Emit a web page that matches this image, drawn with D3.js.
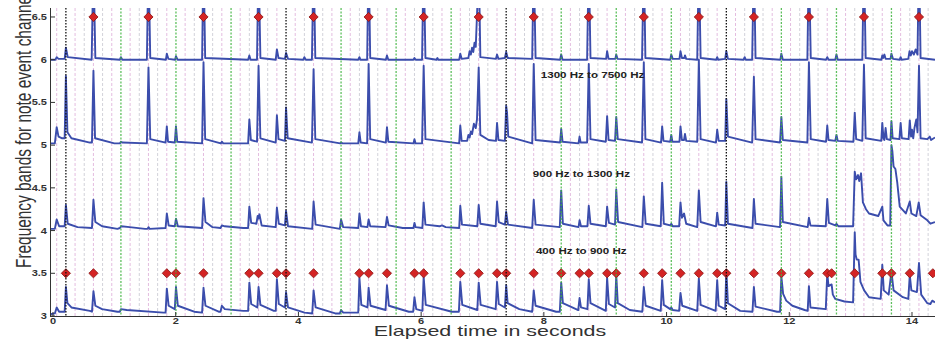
<!DOCTYPE html>
<html>
<head>
<meta charset="utf-8">
<script src="https://cdn.jsdelivr.net/npm/d3@7"></script>
<style>
  html, body { margin: 0; padding: 0; background: #fff; }
  svg { display: block; }
</style>
</head>
<body>
<script>
// ---- Axis ticks and labels ----
const xTicks = [0, 2, 4, 6, 8, 10, 12, 14];
const yTicks = [3, 3.5, 4, 4.5, 5, 5.5, 6, 6.5];
const bandLabels = ["1300 Hz to 7500 Hz", "900 Hz to 1300 Hz", "400 Hz to 900 Hz"];

// ---- Tempo grid (seconds) ----
const measureTimes = [0.21, 3.798, 7.386, 10.974];
const beatTimes = [1.107, 2.004, 2.902, 4.695, 5.592, 6.489, 8.283, 9.18, 10.077, 11.871, 12.769, 13.665];
const gridOrigin = 0.21, gridStep = 0.1495;

// ---- Detected note events (seconds) ----
const onsetsHigh = [0.659, 1.556, 2.453, 3.35, 4.247, 5.144, 6.041, 6.938, 7.835, 8.732,
  9.629, 10.526, 11.423, 12.32, 13.217, 14.114];
const onsetsLow = [0.21, 0.659, 1.855, 2.004, 2.453, 3.2, 3.35, 3.649, 3.798, 4.247, 4.994,
  5.144, 5.443, 5.891, 6.041, 6.638, 6.938, 7.237, 7.386, 7.835, 8.283, 8.582, 8.732, 9.031,
  9.18, 9.629, 9.928, 10.227, 10.526, 10.825, 10.974, 11.423, 11.871, 12.32, 12.619, 12.69,
  13.067, 13.516, 13.665, 13.964, 14.34];

// ---- Band envelopes: [time s, channel value] ----
const traceTop = [[-0.05,6.0],[0.04,6.0],[0.06,6.03],[0.09,6.01],[0.19,6.01],[0.21,6.14],[0.24,6.03],
  [0.63,6.0],[0.652,6.9],[0.666,6.9],[0.69,6.02],[1.09,6.0],[1.107,6.03],[1.13,6.0],[1.53,6.0],[1.549,6.9],[1.563,6.9],[1.585,6.02],
  [1.84,6.0],[1.855,6.07],[1.88,6.01],[1.99,6.0],[2.004,6.04],[2.03,6.0],[2.43,6.0],[2.446,6.9],[2.46,6.9],[2.48,6.02],
  [3.18,6.0],[3.2,6.05],[3.22,6.0],[3.325,6.0],[3.343,6.9],[3.357,6.9],[3.38,6.02],[3.63,6.0],[3.649,6.12],[3.675,6.02],
  [3.78,6.01],[3.798,6.08],[3.83,6.01],[4.08,6.0],[4.097,6.03],[4.12,6.0],[4.22,6.0],[4.24,6.9],[4.254,6.9],[4.275,6.02],
  [4.975,6.0],[4.994,6.03],[5.01,6.0],[5.12,6.0],[5.137,6.9],[5.151,6.9],[5.17,6.02],[5.425,6.0],[5.443,6.05],[5.465,6.0],
  [5.875,6.0],[5.891,6.02],[5.91,6.0],[6.015,6.0],[6.034,6.9],[6.048,6.9],[6.07,6.02],[6.25,6.0],[6.265,6.02],[6.28,6.0],
  [6.62,6.0],[6.638,6.07],[6.66,6.01],[6.77,6.02],[6.79,6.1],[6.81,6.06],[6.83,6.14],[6.85,6.09],[6.87,6.2],[6.89,6.15],
  [6.931,6.9],[6.945,6.9],[6.965,6.03],[7.22,6.01],[7.237,6.06],[7.26,6.01],[7.365,6.02],[7.386,6.09],[7.41,6.02],
  [7.81,6.01],[7.828,6.9],[7.842,6.9],[7.865,6.02],[8.265,6.0],[8.283,6.06],[8.305,6.0],[8.705,6.0],[8.725,6.9],[8.739,6.9],[8.76,6.02],
  [9.015,6.01],[9.031,6.1],[9.055,6.01],[9.165,6.01],[9.18,6.06],[9.2,6.01],[9.6,6.0],[9.622,6.9],[9.636,6.9],[9.655,6.02],
  [10.06,6.0],[10.077,6.06],[10.1,6.01],[10.21,6.01],[10.227,6.1],[10.25,6.02],[10.29,6.02],[10.3,6.05],[10.32,6.01],
  [10.5,6.0],[10.519,6.9],[10.533,6.9],[10.555,6.02],[10.81,6.0],[10.825,6.03],[10.84,6.0],[10.955,6.01],[10.974,6.1],[11.0,6.01],
  [11.255,6.0],[11.273,6.03],[11.29,6.0],[11.395,6.0],[11.416,6.9],[11.43,6.9],[11.45,6.02],[11.855,6.0],[11.871,6.07],[11.895,6.0],
  [12.295,6.0],[12.313,6.9],[12.327,6.9],[12.35,6.02],[12.6,6.0],[12.619,6.03],[12.64,6.0],[12.75,6.0],[12.769,6.06],[12.79,6.0],
  [13.19,6.0],[13.21,6.9],[13.224,6.9],[13.245,6.02],[13.5,6.0],[13.516,6.05],[13.53,6.02],[13.55,6.06],[13.57,6.01],
  [13.65,6.01],[13.665,6.07],[13.69,6.01],[13.8,6.0],[13.815,6.03],[13.83,6.0],
  [13.94,6.01],[13.96,6.1],[13.98,6.05],[14.0,6.1],[14.03,6.06],[14.06,6.12],[14.09,6.06],
  [14.107,6.9],[14.121,6.9],[14.14,6.02],[14.375,6.0]];

const traceUpper = [[-0.05,5.02],[0.03,5.02],[0.06,5.21],[0.09,5.1],[0.15,5.08],
  [0.19,5.08],[0.21,5.81],[0.235,5.15],[0.3,5.08],[0.6,5.03],[0.635,5.03],[0.659,5.87],[0.685,5.08],[1.0,5.02],
  [1.09,5.02],[1.107,5.04],[1.13,5.03],[1.53,5.02],[1.556,5.91],[1.585,5.07],[1.835,5.03],[1.855,5.22],[1.875,5.04],
  [1.985,5.03],[2.004,5.22],[2.025,5.04],[2.43,5.02],[2.453,5.97],[2.48,5.07],[2.735,5.02],[2.752,5.04],[2.775,5.02],
  [3.18,5.02],[3.2,5.3],[3.225,5.06],[3.325,5.04],[3.35,5.93],[3.38,5.08],[3.63,5.03],[3.649,5.35],[3.675,5.07],
  [3.78,5.05],[3.798,5.44],[3.825,5.08],[4.22,5.03],[4.247,5.89],[4.275,5.07],[4.68,5.02],[4.695,5.03],[4.72,5.02],
  [4.975,5.02],[4.994,5.15],[5.015,5.03],[5.12,5.02],[5.144,5.95],[5.17,5.07],[5.425,5.03],[5.443,5.21],[5.465,5.04],
  [5.875,5.02],[5.891,5.07],[5.91,5.02],[6.015,5.02],[6.041,5.93],[6.07,5.07],[6.62,5.02],[6.638,5.23],[6.66,5.05],
  [6.75,5.05],[6.77,5.12],[6.79,5.09],[6.81,5.16],[6.83,5.13],[6.86,5.25],[6.89,5.2],[6.91,5.3],
  [6.938,5.91],[6.965,5.12],[7.1,5.06],[7.22,5.05],[7.237,5.26],[7.26,5.06],[7.365,5.05],[7.386,5.46],[7.4,5.38],[7.42,5.1],
  [7.81,5.02],[7.835,5.95],[7.865,5.06],[8.265,5.03],[8.283,5.19],[8.305,5.04],[8.565,5.02],[8.582,5.1],[8.6,5.03],
  [8.705,5.03],[8.732,5.95],[8.76,5.07],[9.01,5.04],[9.031,5.34],[9.055,5.06],[9.16,5.05],[9.18,5.33],[9.205,5.07],
  [9.6,5.03],[9.629,5.97],[9.655,5.07],[9.91,5.03],[9.928,5.22],[9.95,5.05],[10.06,5.04],[10.077,5.12],[10.095,5.04],
  [10.21,5.04],[10.227,5.22],[10.25,5.06],[10.285,5.06],[10.3,5.13],[10.32,5.05],[10.5,5.04],[10.526,6.0],[10.555,5.07],
  [10.805,5.03],[10.825,5.18],[10.85,5.05],[10.955,5.05],[10.974,5.54],[11.0,5.1],[11.395,5.03],[11.423,5.8],[11.45,5.07],
  [11.85,5.03],[11.871,5.33],[11.895,5.06],[12.295,5.03],[12.32,5.97],[12.35,5.07],[12.6,5.04],[12.619,5.23],[12.64,5.06],
  [12.75,5.05],[12.769,5.12],[12.79,5.05],[13.045,5.04],[13.067,5.38],[13.09,5.07],[13.19,5.05],[13.217,5.94],[13.245,5.08],
  [13.5,5.05],[13.516,5.26],[13.535,5.08],[13.55,5.06],[13.57,5.2],[13.59,5.07],[13.65,5.06],[13.665,5.28],[13.685,5.08],
  [13.795,5.07],[13.815,5.26],[13.835,5.08],[13.945,5.07],[13.964,5.29],[13.985,5.1],[14.0,5.18],[14.02,5.08],[14.04,5.2],
  [14.07,5.3],[14.09,5.15],[14.114,5.93],[14.14,5.08],[14.25,5.07],[14.29,5.1],[14.31,5.06],[14.375,5.09]];

const traceMiddle = [[-0.05,4.02],[0.03,4.02],[0.06,4.13],[0.1,4.05],[0.19,4.05],[0.21,4.3],[0.24,4.08],[0.4,4.04],
  [0.635,4.03],[0.659,4.36],[0.69,4.1],[0.8,4.05],[1.05,4.02],[1.09,4.03],[1.11,4.05],[1.25,4.04],[1.5,4.02],
  [1.54,4.02],[1.556,4.04],[1.575,4.02],[1.835,4.03],[1.855,4.2],[1.885,4.06],[1.985,4.05],[2.004,4.14],[2.035,4.05],
  [2.43,4.03],[2.453,4.38],[2.485,4.1],[2.6,4.04],[2.73,4.03],[2.752,4.06],[2.8,4.05],[3.1,4.03],
  [3.18,4.03],[3.2,4.28],[3.23,4.09],[3.315,4.08],[3.335,4.17],[3.35,4.14],[3.365,4.19],[3.4,4.06],
  [3.63,4.04],[3.649,4.27],[3.68,4.08],[3.78,4.06],[3.798,4.23],[3.83,4.05],[4.225,4.02],[4.247,4.34],[4.28,4.07],
  [4.675,4.02],[4.695,4.13],[4.73,4.04],[4.975,4.03],[4.994,4.2],[5.02,4.05],[5.125,4.04],[5.144,4.13],[5.17,4.05],
  [5.42,4.04],[5.443,4.16],[5.47,4.06],[5.7,4.03],[5.875,4.03],[5.891,4.09],[5.91,4.04],[6.02,4.03],[6.041,4.33],[6.07,4.07],
  [6.3,4.05],[6.34,4.06],[6.4,4.04],[6.62,4.03],[6.638,4.29],[6.665,4.07],[6.915,4.05],[6.938,4.3],[6.965,4.08],
  [7.215,4.05],[7.237,4.34],[7.265,4.1],[7.365,4.07],[7.386,4.22],[7.415,4.07],[7.81,4.03],[7.835,4.36],[7.865,4.07],
  [8.26,4.04],[8.283,4.47],[8.31,4.08],[8.565,4.04],[8.582,4.12],[8.605,4.05],[8.71,4.05],[8.732,4.29],[8.76,4.08],
  [9.01,4.05],[9.031,4.28],[9.06,4.09],[9.16,4.07],[9.18,4.48],[9.21,4.1],[9.605,4.04],[9.629,4.4],[9.66,4.08],
  [9.905,4.05],[9.928,4.56],[9.955,4.08],[10.06,4.06],[10.077,4.08],[10.1,4.05],
  [10.205,4.05],[10.227,4.33],[10.25,4.15],[10.285,4.2],[10.32,4.08],[10.5,4.04],[10.526,4.47],[10.555,4.1],
  [10.805,4.05],[10.825,4.21],[10.85,4.07],[10.955,4.06],[10.974,4.57],[11.0,4.08],[11.4,4.03],[11.423,4.37],[11.45,4.08],
  [11.85,4.04],[11.871,4.63],[11.895,4.1],[12.3,4.04],[12.32,4.15],[12.345,4.06],[12.595,4.05],[12.619,4.37],[12.645,4.09],
  [12.75,4.06],[12.769,4.08],[12.8,4.05],[13.04,4.05],[13.067,4.69],[13.09,4.6],[13.12,4.65],[13.14,4.58],[13.17,4.67],
  [13.2,4.33],[13.25,4.25],[13.3,4.2],[13.45,4.17],[13.516,4.28],[13.535,4.12],[13.6,4.06],
  [13.645,4.06],[13.665,5.0],[13.68,4.93],[13.7,4.75],[13.73,4.72],[13.76,4.56],[13.8,4.28],[13.9,4.2],
  [13.964,4.34],[13.99,4.2],[14.07,4.17],[14.11,4.33],[14.14,4.18],[14.25,4.12],[14.3,4.08],[14.375,4.1]];

const traceLower = [[-0.05,3.02],[0.03,3.03],[0.06,3.1],[0.1,3.05],[0.19,3.05],[0.21,3.34],[0.235,3.15],[0.3,3.1],[0.6,3.06],
  [0.635,3.05],[0.659,3.29],[0.69,3.12],[0.8,3.08],[1.05,3.05],[1.09,3.05],[1.107,3.08],[1.2,3.07],[1.8,3.04],
  [1.835,3.04],[1.855,3.32],[1.885,3.12],[1.985,3.08],[2.004,3.34],[2.035,3.12],[2.3,3.05],
  [2.43,3.04],[2.453,3.33],[2.485,3.12],[2.7,3.05],[2.73,3.05],[2.752,3.12],[2.8,3.08],[3.1,3.06],
  [3.18,3.06],[3.2,3.39],[3.23,3.14],[3.33,3.1],[3.35,3.34],[3.38,3.13],[3.6,3.06],
  [3.63,3.06],[3.649,3.43],[3.68,3.14],[3.78,3.1],[3.798,3.28],[3.83,3.1],[4.1,3.04],
  [4.225,3.03],[4.247,3.3],[4.28,3.1],[4.6,3.03],[4.675,3.03],[4.695,3.07],[4.73,3.04],
  [4.975,3.04],[4.994,3.45],[5.025,3.13],[5.125,3.1],[5.144,3.33],[5.175,3.12],[5.42,3.07],[5.443,3.36],[5.475,3.12],[5.8,3.05],
  [5.87,3.05],[5.891,3.22],[5.92,3.08],[6.02,3.06],[6.041,3.46],[6.075,3.13],[6.5,3.05],
  [6.615,3.05],[6.638,3.4],[6.67,3.13],[6.915,3.07],[6.938,3.39],[6.97,3.13],[7.215,3.08],[7.237,3.4],[7.265,3.14],
  [7.365,3.1],[7.386,3.36],[7.41,3.15],[7.6,3.08],[7.81,3.05],[7.835,3.3],[7.865,3.12],[8.2,3.05],
  [8.26,3.05],[8.283,3.39],[8.31,3.15],[8.56,3.07],[8.582,3.21],[8.605,3.1],[8.71,3.08],[8.732,3.43],[8.76,3.15],
  [9.01,3.06],[9.031,3.45],[9.06,3.14],[9.16,3.1],[9.18,3.48],[9.205,3.15],[9.4,3.07],
  [9.605,3.05],[9.629,3.34],[9.66,3.12],[9.905,3.06],[9.928,3.42],[9.955,3.13],[10.06,3.08],[10.077,3.1],[10.1,3.07],
  [10.205,3.06],[10.227,3.27],[10.255,3.12],[10.5,3.06],[10.526,3.44],[10.555,3.13],[10.8,3.06],[10.825,3.42],[10.85,3.12],
  [10.955,3.08],[10.974,3.54],[11.0,3.15],[11.2,3.06],[11.4,3.05],[11.423,3.34],[11.45,3.11],[11.8,3.05],
  [11.85,3.05],[11.871,3.46],[11.9,3.26],[11.95,3.18],[12.05,3.12],[12.25,3.07],[12.3,3.06],[12.32,3.35],[12.345,3.1],
  [12.595,3.08],[12.619,3.5],[12.64,3.35],[12.69,3.37],[12.71,3.25],[12.75,3.2],[12.9,3.17],[13.04,3.16],
  [13.067,3.98],[13.08,3.72],[13.1,3.66],[13.13,3.66],[13.16,3.4],[13.22,3.3],[13.3,3.22],[13.49,3.2],
  [13.516,3.6],[13.54,3.3],[13.62,3.25],[13.665,3.52],[13.7,3.3],[13.85,3.22],[13.94,3.2],
  [13.964,3.48],[13.99,3.3],[14.08,3.28],[14.114,3.62],[14.15,3.25],[14.25,3.15],[14.3,3.14],[14.33,3.18],[14.375,3.16]];

const traces = [traceTop, traceUpper, traceMiddle, traceLower];

// ---- Layout ----
const W = 937, H = 339;
const x = d3.scaleLinear().domain([-0.049, 14.375]).range([50, 935]);
const y = d3.scaleLinear().domain([3, 6.605]).range([316, 8]);
const FONT = "'Liberation Sans', Arial, Helvetica, sans-serif";

const svg = d3.select("body").append("svg").attr("width", W).attr("height", H);

svg.append("defs").append("clipPath").attr("id", "plot")
  .append("rect").attr("x", 50).attr("y", y.range()[1]).attr("width", 885).attr("height", 308.5);

const plot = svg.append("g").attr("clip-path", "url(#plot)");

// Subdivision grid (six per beat), alternating tints
const subdivisions = d3.range(-1, 95).map(i => ({ t: gridOrigin + i * gridStep, i }))
  .filter(d => ((d.i % 6) + 6) % 6 !== 0);
plot.append("g").selectAll("line").data(subdivisions).join("line")
  .attr("x1", d => x(d.t)).attr("x2", d => x(d.t))
  .attr("y1", y.range()[1]).attr("y2", y.range()[0])
  .attr("stroke", d => d.i % 2 ? "#e4bde0" : "#d2d2da")
  .attr("stroke-width", 1)
  .attr("stroke-dasharray", "3,2");

// Band envelopes
const line = d3.line().x(d => x(d[0])).y(d => y(d[1]));
plot.append("g").selectAll("path").data(traces).join("path")
  .attr("d", line)
  .attr("fill", "none")
  .attr("stroke", "#3b4dac")
  .attr("stroke-width", 1.9)
  .attr("stroke-linejoin", "round");

// Note event markers
const diamond = d3.symbol(d3.symbolSquare, 42);
const markers = [
  ...onsetsHigh.map(t => [t, 6.5]),
  ...onsetsLow.map(t => [t, 3.5])
];
plot.append("g").selectAll("path").data(markers).join("path")
  .attr("d", diamond)
  .attr("transform", d => `translate(${x(d[0])},${y(d[1])}) rotate(45)`)
  .attr("fill", "#d42424")
  .attr("stroke", "#8c1414")
  .attr("stroke-width", 0.8);

// Beat and measure lines
plot.append("g").selectAll("line").data(beatTimes).join("line")
  .attr("x1", d => x(d)).attr("x2", d => x(d))
  .attr("y1", y.range()[1]).attr("y2", y.range()[0])
  .attr("stroke", "#3fb43f").attr("stroke-opacity", 0.85)
  .attr("stroke-width", 1.3).attr("stroke-dasharray", "2,1.5");
plot.append("g").selectAll("line").data(measureTimes).join("line")
  .attr("x1", d => x(d)).attr("x2", d => x(d))
  .attr("y1", y.range()[1]).attr("y2", y.range()[0])
  .attr("stroke", "#111").attr("stroke-width", 1.3).attr("stroke-dasharray", "1.5,1.5");

// Band labels
const bandLabelPos = [[7.95, 5.78], [7.82, 4.63], [7.87, 3.725]];
svg.append("g").selectAll("text").data(bandLabels).join("text")
  .attr("transform", (d, i) => `translate(${x(bandLabelPos[i][0])},${y(bandLabelPos[i][1])}) scale(1.22,1)`)
  .attr("font-family", FONT).attr("font-size", 9.5).attr("font-weight", "bold")
  .attr("fill", "#222").text(d => d);

// Axes (inward ticks)
const axes = svg.append("g").attr("stroke", "#333").attr("stroke-width", 1);
axes.append("line").attr("x1", 50.5).attr("x2", 50.5).attr("y1", y.range()[1]).attr("y2", 316.5);
axes.append("line").attr("x1", 50).attr("x2", 935).attr("y1", 316.5).attr("y2", 316.5);
axes.selectAll(".yt").data(yTicks).join("line").attr("class", "yt")
  .attr("x1", 50.5).attr("x2", 55).attr("y1", d => y(d)).attr("y2", d => y(d));
axes.selectAll(".xt").data(xTicks).join("line").attr("class", "xt")
  .attr("x1", d => x(d)).attr("x2", d => x(d)).attr("y1", 316.5).attr("y2", 312);

svg.append("g").selectAll("text").data(yTicks).join("text")
  .attr("transform", d => `translate(47,${y(d) + 3}) scale(1.3,1)`)
  .attr("text-anchor", "end")
  .attr("font-family", FONT).attr("font-size", 8.5).attr("font-weight", "bold")
  .attr("fill", "#333").text(d => String(d));

svg.append("g").selectAll("text").data(xTicks).join("text")
  .attr("transform", d => `translate(${x(d)},324) scale(1.3,1)`)
  .attr("text-anchor", "middle")
  .attr("font-family", FONT).attr("font-size", 8.5).attr("font-weight", "bold")
  .attr("fill", "#333").text(d => String(d));

// Axis titles
svg.append("text")
  .attr("transform", "translate(490,335.5) scale(1.47,1)")
  .attr("text-anchor", "middle")
  .attr("font-family", FONT).attr("font-size", 14.6)
  .attr("fill", "#333").text("Elapsed time in seconds");

svg.append("text")
  .attr("transform", "translate(31,268) scale(1.45,1) rotate(-90)")
  .attr("font-family", FONT).attr("font-size", 15.4)
  .attr("fill", "#333").text("Frequency bands for note event channels");
</script>
</body>
</html>
